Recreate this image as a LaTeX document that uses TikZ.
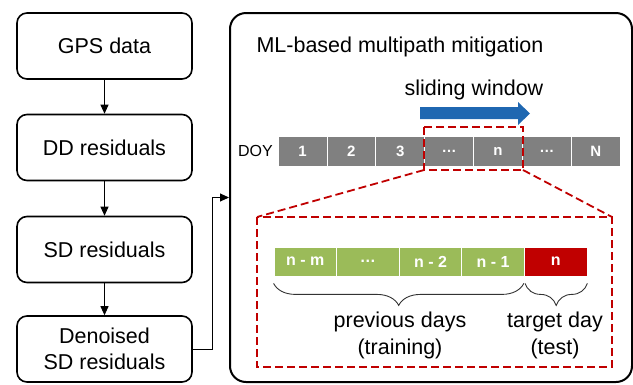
\documentclass[tikz,border=0pt]{standalone}
\usepackage{fontspec}
\setmainfont{Liberation Sans}
\usetikzlibrary{arrows.meta, decorations.pathreplacing}

\begin{document}
\begin{tikzpicture}[x=1pt, y=-1pt]
    % Define colours
    \definecolor{cellGrey}{HTML}{808080}
    \definecolor{trainGreen}{HTML}{9BBB59}
    \definecolor{testRed}{HTML}{C00000}
    \definecolor{zoomRed}{HTML}{C00000}
    \definecolor{slideBlue}{HTML}{1F67B1}

    % Define styles
    \tikzset{
        stepbox/.style={draw, rounded corners=10pt, line width=1.6pt,
            minimum width=175pt, minimum height=66pt, align=center,
            font=\fontsize{21.5}{26}\selectfont},
        bigbox/.style={draw, rounded corners=16pt, line width=2pt,
            minimum width=402pt, minimum height=369pt},
        flowArrow/.style={line width=0.9pt, -{Triangle[length=9pt,width=8pt]}},
        doycell/.style={fill=cellGrey, draw=white, line width=0.8pt,
            minimum width=\cellW pt, minimum height=30pt, text=white,
            font=\fontsize{15}{18}\selectfont\bfseries},
        daycell/.style={draw=white, line width=0.8pt,
            minimum width=\dayW pt, minimum height=29pt, text=white,
            font=\fontsize{16}{19}\selectfont\bfseries},
        zoomLine/.style={zoomRed, line width=1.8pt, dash pattern=on 8pt off 4pt},
        dayBrace/.style={decorate, decoration={brace, mirror, amplitude=22pt},
            line width=0.9pt, black!80},
        labeltext/.style={align=center, inner sep=0pt,
            font=\fontsize{21.5}{27}\selectfont}
    }
    \def\cellW{48.9}
    \def\dayW{62.6}

    \useasboundingbox (0,0) rectangle (633,384);

    % Draw the processing chain
    \node[stepbox] (gps) at (104.5,46) {GPS data};
    \node[stepbox] (dd) at (104.5,147.5) {DD residuals};
    \node[stepbox] (sd) at (104.5,249.5) {SD residuals};
    \node[stepbox] (den) at (104.5,349) {Denoised\\SD residuals};
    \foreach \a/\b in {gps/dd, dd/sd, sd/den}
        \draw[flowArrow] (\a) -- (\b);

    % Draw the mitigation box
    \node[bigbox] (ml) at (431,197.5) {};
    \draw[flowArrow] (den.east) -- ++(20,0) |- (ml.west);
    \node[anchor=west, font=\fontsize{21.5}{26}\selectfont] (title) at (253,47)
        {ML-based multipath mitigation};

    % Sliding window arrow
    \node[font=\fontsize{21.5}{26}\selectfont] (slide) at (474,90) {sliding window};
    \fill[slideBlue] (420,107) -- (518,107) -- (518,102) -- (530,113.5)
        -- (518,125) -- (518,119) -- (420,119) -- cycle;

    % Day of year row
    \node[anchor=east, inner sep=2pt, font=\fontsize{16}{19}\selectfont] (doy) at (275,151) {DOY};
    \foreach \lbl [count=\i] in {1,2,3,\ldots,n,\ldots,N}
        \node[doycell] (doy\i) at ({278+(\i-0.5)*\cellW},151) {\lbl};

    % Window and its zoom
    \coordinate (winA) at (424,127);
    \coordinate (winB) at (523,170);
    \coordinate (zoomA) at (257,217);
    \coordinate (zoomB) at (612,367);
    \draw[zoomLine] (winA) rectangle (winB);
    \draw[zoomLine] (zoomA) rectangle (zoomB);
    \draw[zoomLine] (winA |- winB) -- (zoomA);
    \draw[zoomLine] (winB) -- (zoomA -| zoomB);

    % Training and test days
    \foreach \lbl [count=\i] in {n - m,\ldots,n - 2,n - 1}
        \node[daycell, fill=trainGreen] (day\i) at ({274+(\i-0.5)*\dayW},261.5) {\lbl};
    \node[daycell, fill=testRed] (day5) at ({274+4.5*\dayW},261.5) {n};

    \draw[dayBrace] ([yshift=-7pt]day1.south west) -- ([yshift=-7pt,xshift=-1pt]day4.south east);
    \draw[dayBrace] ([yshift=-7pt,xshift=1pt]day5.south west) -- ([yshift=-7pt]day5.south east);
    \node[labeltext] (prev) at (400,335.5) {previous days\\(training)};
    \node[labeltext] (target) at (555,335.5) {target day\\(test)};
\end{tikzpicture}
\end{document}
